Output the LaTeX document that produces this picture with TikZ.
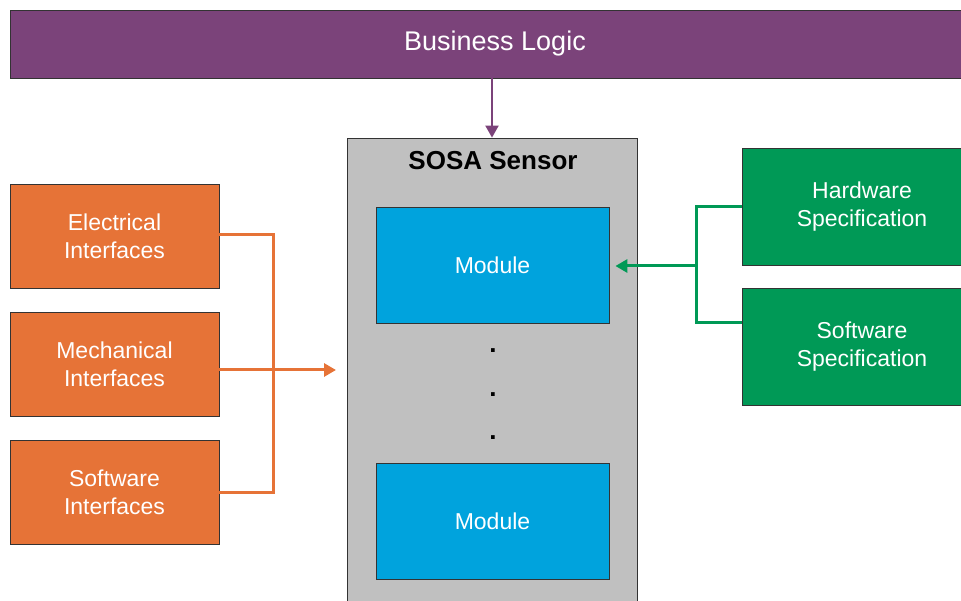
\documentclass[tikz,border=0pt]{standalone}
\usepackage{fontspec}
\setmainfont{Liberation Sans}
\usetikzlibrary{arrows.meta}

\definecolor{logicpurple}{RGB}{123,67,122}
\definecolor{sensorgray}{RGB}{192,192,192}
\definecolor{moduleblue}{RGB}{0,163,221}
\definecolor{ifaceorange}{RGB}{230,115,55}
\definecolor{specgreen}{RGB}{0,153,86}

\begin{document}
\begin{tikzpicture}[
       x=1pt, y=-1pt,
       box/.style={
         rectangle,
         draw=black!80,
         line width=0.8pt,
         inner sep=0pt,
         text=white,
         align=center,
         font=\fontsize{23}{28}\selectfont
       },
       iface/.style={
         box,
         fill=ifaceorange,
         minimum width=209pt,
         minimum height=104pt
       },
       spec/.style={
         box,
         fill=specgreen,
         minimum width=240pt,
         minimum height=117pt
       },
       module/.style={
         box,
         fill=moduleblue,
         minimum width=233pt,
         minimum height=116pt
       },
       dot/.style={
         inner sep=0pt,
         font=\bfseries\fontsize{26}{26}\selectfont
       },
       tip/.style={-{Triangle[length=12pt,width=13pt]}}
     ]

       \useasboundingbox (0,0) rectangle (961,601);
       \clip (0,0) rectangle (961,601);

       \node (logic) at (495,44) [box,fill=logicpurple,minimum width=970pt,minimum height=68pt,
         font=\fontsize{27}{30}\selectfont]{Business Logic};

       \node (sensor) at (492,374) [box,fill=sensorgray,minimum width=290pt,minimum height=472pt]{};
       \node (title) at (493,161) [font=\bfseries\fontsize{26}{30}\selectfont]{SOSA Sensor};

       \node (mod1) at (492.5,265) [module]{Module};
       \node (mod2) at (492.5,521) [module]{Module};
       \node (d1) at (493,351) [dot]{.};
       \node (d2) at (493,395) [dot]{.};
       \node (d3) at (493,438) [dot]{.};

       \node (elec) at (114.5,236) [iface]{Electrical\\Interfaces};
       \node (mech) at (114.5,364) [iface]{Mechanical\\Interfaces};
       \node (softif) at (114.5,492) [iface]{Software\\Interfaces};

       \node (hw) at (862,206.5) [spec]{Hardware\\Specification};
       \node (sw) at (862,347) [spec]{Software\\Specification};

       \coordinate (ojoin) at (273,370);
       \coordinate (otip) at (336,370);
       \coordinate (gjoin) at (696,266);

       \draw[logicpurple,line width=2pt,tip] (logic.south -| sensor.north) -- (sensor.north);

       \draw[ifaceorange,line width=3pt] ([yshift=1pt]elec.east) -| (ojoin) |- (softif.east);
       \draw[ifaceorange,line width=3pt,tip] (mech.east |- ojoin) -- (otip);

       \draw[specgreen,line width=3pt] (hw.west) -| (gjoin) |- (sw.west |- 0,323);
       \draw[specgreen,line width=3pt,tip,shorten >=6pt] (gjoin) -- (mod1.east |- gjoin);

\end{tikzpicture}
\end{document}
